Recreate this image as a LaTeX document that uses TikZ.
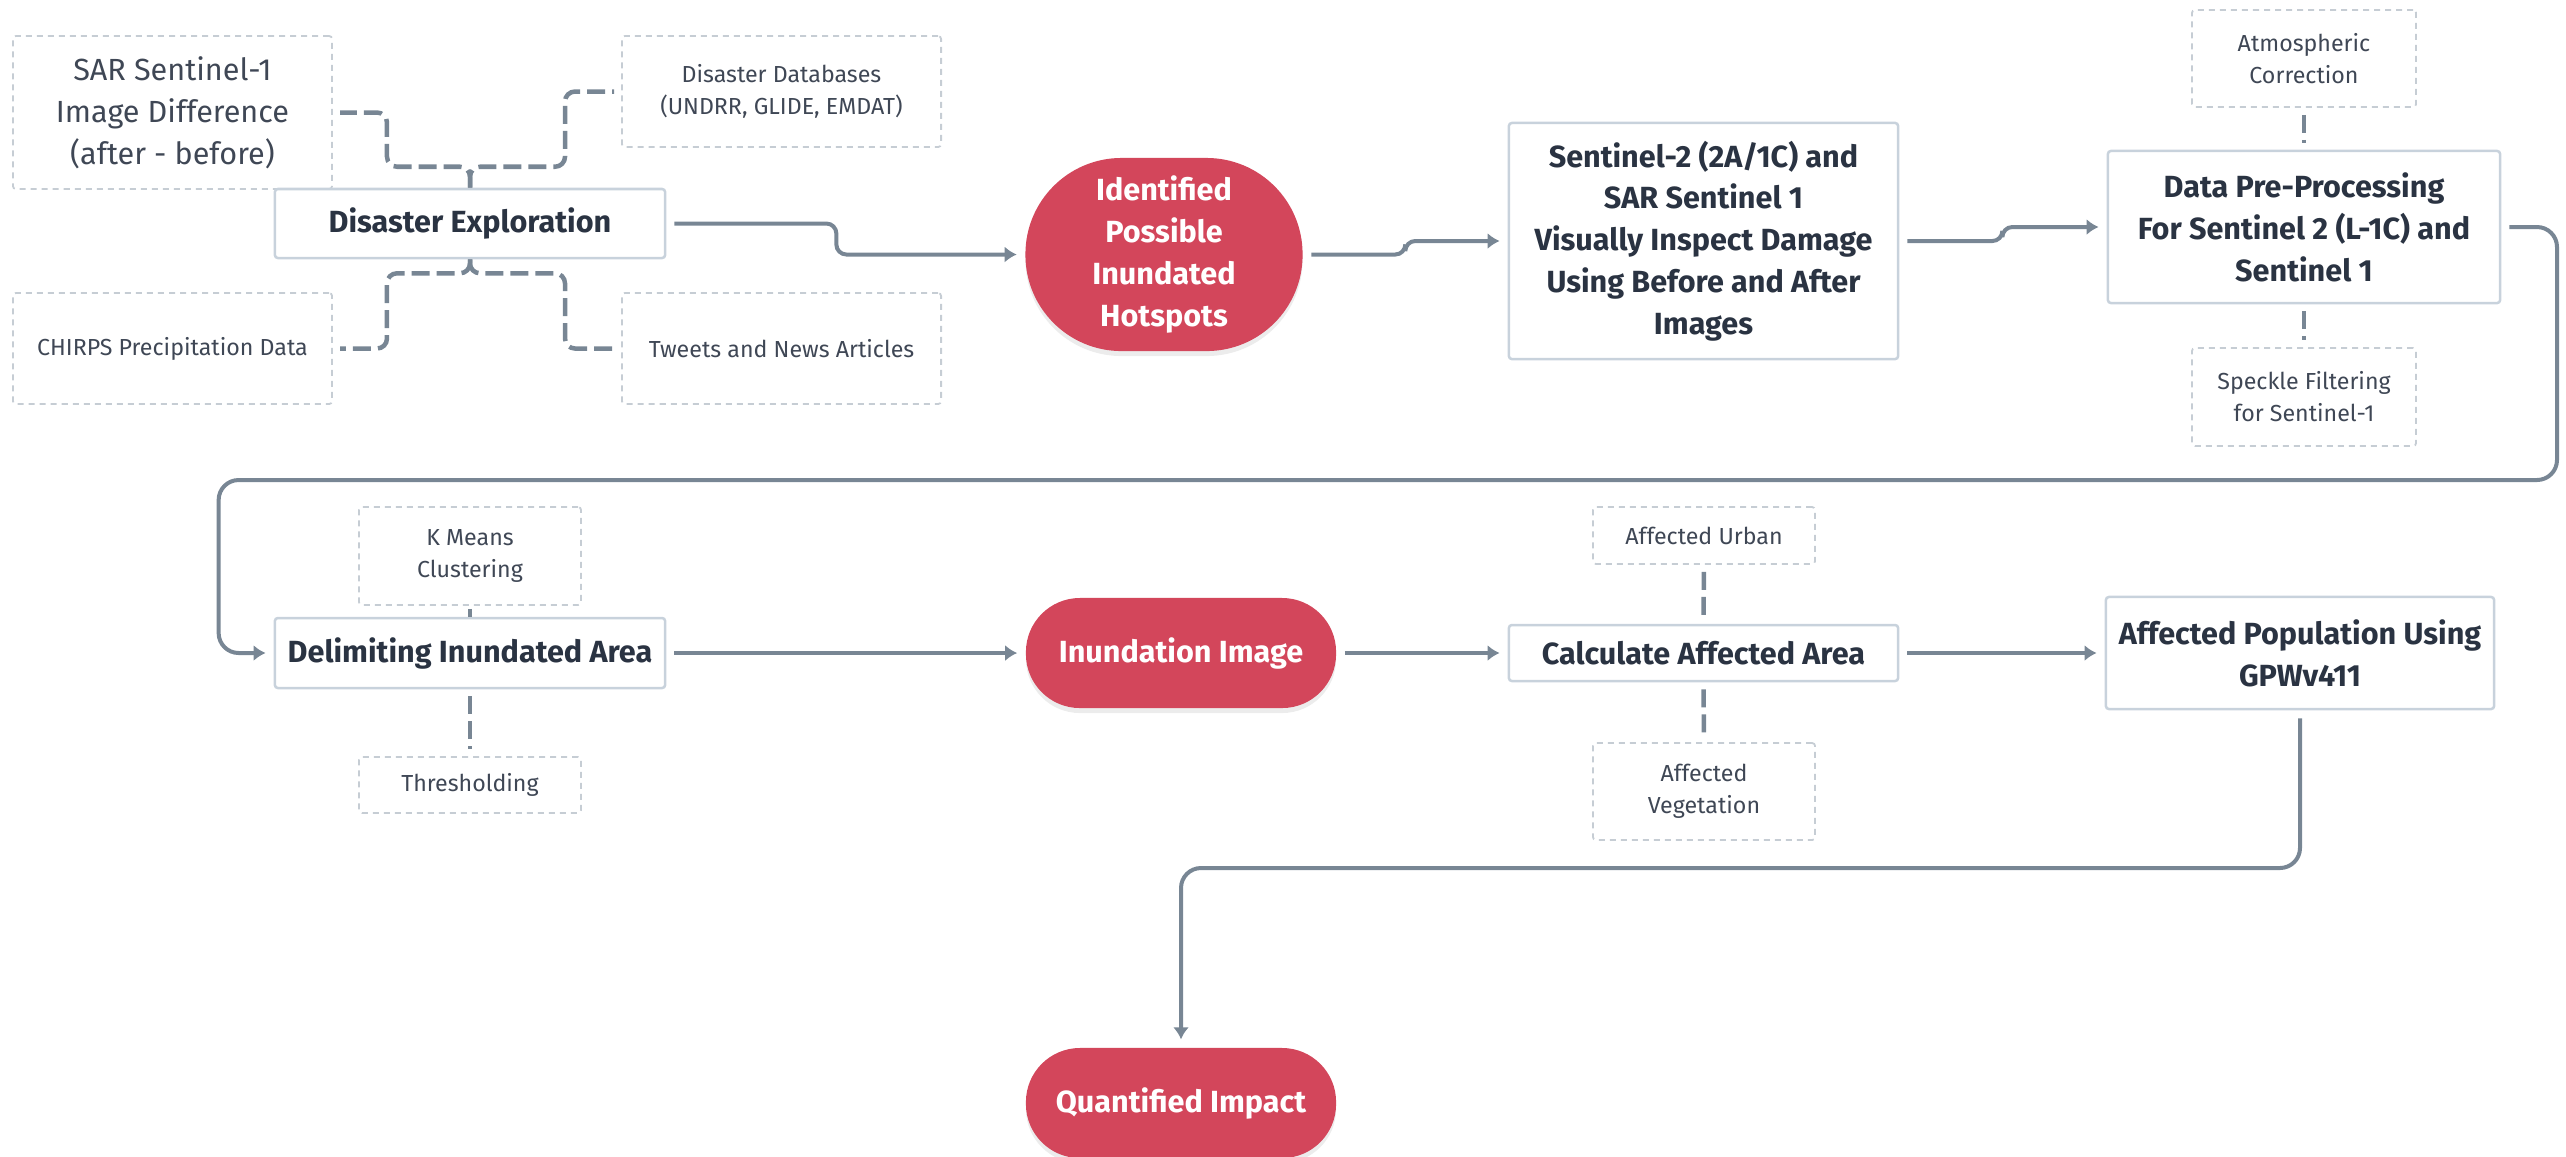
\documentclass[tikz,border=0pt]{standalone}
\usepackage{fontspec}
\setmainfont{Fira Sans}
\usepackage{tikz}
\usetikzlibrary{positioning,calc,shapes,arrows.meta,shadows}
\definecolor{rouge}{RGB}{211,70,91}
\definecolor{encre}{RGB}{42,51,66}
\definecolor{trait}{RGB}{120,134,148}
\definecolor{bord}{RGB}{200,210,220}
\definecolor{pointille}{RGB}{198,205,212}
\tikzset{
	etape/.style={draw=bord,line width=0.025cm,rounded corners=0.03cm,fill=white,text=encre,align=center,inner sep=0pt,font=\bfseries\fontsize{8.7}{11.9}\selectfont},
	entree/.style={draw=pointille,line width=0.018cm,dash pattern=on 0.06cm off 0.05cm,rounded corners=0.03cm,text=encre!90,align=center,inner sep=0pt,font=\fontsize{6.6}{9.1}\selectfont},
	resultat/.style={fill=rouge,text=white,align=center,inner sep=0pt,font=\bfseries\fontsize{8.7}{11.9}\selectfont,drop shadow={opacity=0.15,shadow xshift=0cm,shadow yshift=-0.05cm}},
	flot/.style={draw=trait,line width=0.04cm,rounded corners=0.1cm,-{Latex[length=0.12cm,width=0.16cm]},shorten <=0.08cm,shorten >=0.08cm},
	lien/.style={draw=trait,line width=0.045cm,dash pattern=on 0.18cm off 0.07cm,rounded corners=0.1cm,shorten <=0.07cm,shorten >=0.07cm}
}

\begin{document}
\begin{tikzpicture}[x=0.01cm,y=-0.01cm]
	
	\useasboundingbox (0,0) rectangle (2566,1156);
	
	%Premiere ligne
	\node[entree,minimum width=3.19cm,minimum height=1.53cm,font=\fontsize{8.7}{11.9}\selectfont] (sar) at (172.5,112.5) {SAR Sentinel-1\\Image Difference\\(after - before)};
	\node[entree,minimum width=3.19cm,minimum height=1.11cm] (dbs) at (781.5,91.5) {Disaster Databases\\(UNDRR, GLIDE, EMDAT)};
	\node[etape,minimum width=3.9cm,minimum height=0.69cm] (dis) at (470,223.5) {Disaster Exploration};
	\node[entree,minimum width=3.19cm,minimum height=1.11cm] (chirps) at (172.5,348.5) {CHIRPS Precipitation Data};
	\node[entree,minimum width=3.19cm,minimum height=1.11cm] (tweets) at (781.5,348.5) {Tweets and News Articles};
	
	\node[resultat,minimum width=2.77cm,minimum height=1.93cm,rounded corners=0.96cm] (ident) at (1164,254.5) {Identified\\Possible\\Inundated\\Hotspots};
	\node[etape,minimum width=3.89cm,minimum height=2.36cm] (s2) at (1703.5,241) {Sentinel-2 (2A/1C) and\\SAR Sentinel 1\\Visually Inspect Damage\\Using Before and After\\Images};
	
	\node[entree,minimum width=2.24cm,minimum height=0.97cm] (atmo) at (2304,58.5) {Atmospheric\\Correction};
	\node[etape,minimum width=3.92cm,minimum height=1.52cm] (pre) at (2304,227) {Data Pre-Processing\\For Sentinel 2 (L-1C) and\\Sentinel 1};
	\node[entree,minimum width=2.24cm,minimum height=0.98cm] (speck) at (2304,397) {Speckle Filtering\\for Sentinel-1};
	
	%Deuxieme ligne
	\node[entree,minimum width=2.22cm,minimum height=0.98cm] (kmeans) at (470,556) {K Means\\Clustering};
	\node[etape,minimum width=3.9cm,minimum height=0.7cm] (delim) at (470,653) {Delimiting Inundated Area};
	\node[entree,minimum width=2.22cm,minimum height=0.56cm] (thresh) at (470,785) {Thresholding};
	
	\node[resultat,minimum width=3.1cm,minimum height=1.1cm,rounded corners=0.54cm] (inund) at (1181,653) {Inundation Image};
	
	\node[entree,minimum width=2.22cm,minimum height=0.57cm] (urban) at (1704,535.5) {Affected Urban};
	\node[etape,minimum width=3.89cm,minimum height=0.56cm] (calc) at (1703.5,653) {Calculate Affected Area};
	\node[entree,minimum width=2.22cm,minimum height=0.97cm] (veg) at (1704,791.5) {Affected\\Vegetation};
	
	\node[etape,minimum width=3.88cm,minimum height=1.12cm] (pop) at (2300,653) {Affected Population Using\\GPWv411};
	
	\node[resultat,minimum width=3.1cm,minimum height=1.1cm,rounded corners=0.54cm] (quant) at (1181,1103) {Quantified Impact};
	
	%Points de passage
	\coordinate (jhaut) at ($(dis.north)+(0,-21)$);
	\coordinate (jbas) at ($(dis.south)+(0,14)$);
	\coordinate (retour) at (2557,480);
	\coordinate (bas) at (1181,868);
	
	%Liens pointilles
	\draw[lien,shorten <=0pt] (dis.north) -- (jhaut) -| ($(sar.east)+(54,0)$) -- (sar.east);
	\draw[lien,shorten <=0pt] (dis.north) -- (jhaut) -| ($(dbs.west)+(-56,0)$) -- (dbs.west);
	\draw[lien,shorten <=0pt] (dis.south) -- (jbas) -| ($(chirps.east)+(54,0)$) -- (chirps.east);
	\draw[lien,shorten <=0pt] (dis.south) -- (jbas) -| ($(tweets.west)+(-56,0)$) -- (tweets.west);
	
	\draw[lien] (atmo.south) -- (pre.north);
	\draw[lien] (pre.south) -- (speck.north);
	\draw[lien,shorten <=0.03cm,shorten >=0pt] (kmeans.south) -- (delim.north);
	\draw[lien] (delim.south) -- (thresh.north);
	\draw[lien] (urban.south) -- (calc.north);
	\draw[lien] (calc.south) -- (veg.north);
	
	%Fleches
	\draw[flot] (dis.east) -- ++(170,0) |- (ident.west);
	\draw[flot] (ident.east) -- ++(102,0) |- (s2.west);
	\draw[flot] (s2.east) -- ++(103,0) |- (pre.west);
	\draw[flot,rounded corners=0.2cm] (pre.east) -| (retour) -| ($(delim.west)+(-55,0)$) -- (delim.west);
	\draw[flot] (delim.east) -- (inund.west);
	\draw[flot] (inund.east) -- (calc.west);
	\draw[flot] (calc.east) -- (pop.west);
	\draw[flot,rounded corners=0.2cm] (pop.south) |- (bas) -- (quant.north);
	
\end{tikzpicture}
\end{document}
